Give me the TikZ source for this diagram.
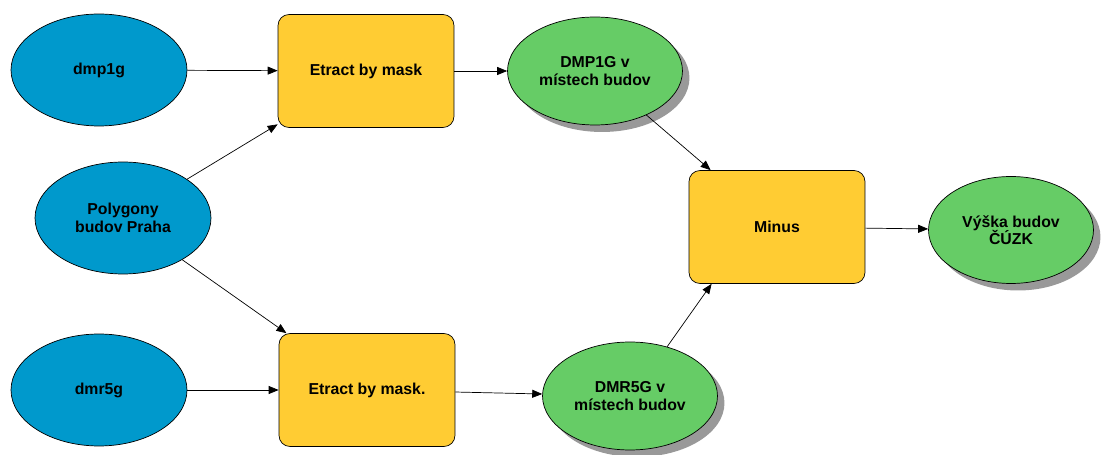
\documentclass[tikz,border=0pt]{standalone}
\usepackage{fontspec}
\setmainfont{Liberation Sans}
\usetikzlibrary{shapes.geometric,arrows.meta,shadows}
\definecolor{inblue}{RGB}{0,153,204}
\definecolor{toolyellow}{RGB}{255,204,51}
\definecolor{outgreen}{RGB}{102,204,102}
\begin{document}
\begin{tikzpicture}[x=0.02cm,y=-0.02cm,
        every node/.style={font=\bfseries\fontsize{9}{10}\selectfont,align=center},
        datain/.style={ellipse,draw,fill=inblue,minimum width=3.52cm,minimum height=2.24cm,inner sep=0pt},
        dataout/.style={ellipse,draw,fill=outgreen,minimum width=3.5cm,minimum height=2.16cm,inner sep=0pt,
            drop shadow={shadow xshift=0.14cm,shadow yshift=-0.14cm,fill=black!40,opacity=1}},
        tool/.style={rectangle,draw,rounded corners=0.22cm,fill=toolyellow,minimum width=3.52cm,minimum height=2.26cm,inner sep=0pt},
        link/.style={-{Triangle[length=2mm,width=1.6mm]}}]
    \useasboundingbox (0,0) rectangle (1105,455);
    \node[datain] (dmp) at (99,70) {dmp1g};
    \node[datain] (budovy) at (123,218) {Polygony\\budov Praha};
    \node[datain] (dmr) at (99,390) {dmr5g};
    \node[tool] (maska1) at (366,71) {Etract by mask};
    \node[tool] (maska2) at (367,390) {Etract by mask.};
    \node[dataout] (dmpbud) at (595,71) {DMP1G v\\místech budov};
    \node[dataout] (dmrbud) at (630,396) {DMR5G v\\místech budov};
    \node[tool] (minus) at (777,227) {Minus};
    \node[dataout,minimum width=3.3cm,minimum height=2.14cm] (vyska) at (1011,230) {Výška budov\\ČÚZK};
    \draw[link] (dmp) -- (maska1);
    \draw[link] (budovy) -- (maska1);
    \draw[link] (budovy) -- (maska2);
    \draw[link] (dmr) -- (maska2);
    \draw[link] (maska1) -- (dmpbud);
    \draw[link] (maska2) -- (dmrbud);
    \draw[link] (dmpbud) -- (minus);
    \draw[link] (dmrbud.53) -- (minus.-139);
    \draw[link] (minus) -- (vyska);
\end{tikzpicture}
\end{document}
